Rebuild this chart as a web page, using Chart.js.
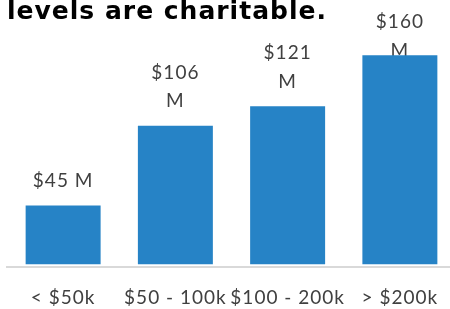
<!DOCTYPE html>
<html>
<head>
<meta charset="utf-8">
<script src="https://cdn.jsdelivr.net/npm/chart.js@4.4.1/dist/chart.umd.min.js"></script>
<style>
  html, body { margin: 0; padding: 0; background: #fff; overflow: hidden; }
  canvas { display: block; }
</style>
</head>
<body>
<!-- el lienzo es algo mayor que la ventana: el original corta el título y el borde derecho -->
<canvas id="grafica" width="460" height="328"></canvas>
<script>
// Datos
const categorias = ['< $50k', '$50 - 100k', '$100 - 200k', '> $200k'];
const valores = [45, 106, 121, 160];
const titulo = 'levels are charitable.';

const colorBarra = '#2683C6';
const colorTexto = '#404040';
const fuente = 'Lato, "Open Sans", sans-serif';

// Espaciado entre letras (el original lo tiene bastante abierto)
const espaciadoPlugin = {
  id: 'espaciado',
  beforeDraw(chart) {
    chart.ctx.letterSpacing = '1px';
  }
};

// Etiquetas encima de cada barra (se dibujan antes que las barras, como en el original)
const etiquetasPlugin = {
  id: 'etiquetas',
  beforeDatasetsDraw(chart) {
    const ctx = chart.ctx;
    const meta = chart.getDatasetMeta(0);
    ctx.save();
    ctx.letterSpacing = '1px';
    ctx.font = '19px ' + fuente;
    ctx.fillStyle = colorTexto;
    ctx.textAlign = 'center';
    ctx.textBaseline = 'alphabetic';
    meta.data.forEach((barra, i) => {
      const texto = '$' + valores[i] + ' M';
      let lineas = [texto];
      if (ctx.measureText(texto).width > 66) {
        lineas = texto.split(' '); // se parte en dos líneas si no cabe
      }
      let base = barra.y - 18.5 - (lineas.length - 1) * 28.5;
      if (base < 28) base = 28;
      lineas.forEach((l, j) => ctx.fillText(l, barra.x, base + j * 28.5));
    });
    ctx.restore();
  }
};

const ctx = document.getElementById('grafica').getContext('2d');
new Chart(ctx, {
  type: 'bar',
  data: {
    labels: categorias,
    datasets: [{
      data: valores,
      backgroundColor: colorBarra,
      borderWidth: 0,
      categoryPercentage: 1,
      barPercentage: 0.668,
    }],
  },
  options: {
    responsive: false,
    animation: false,
    layout: { padding: { left: 7, right: 4, top: 0, bottom: 0 } },
    scales: {
      x: {
        grid: { display: false, drawTicks: false },
        border: { display: true, color: '#d9d9d9', width: 2 },
        ticks: {
          color: colorTexto,
          font: { family: fuente, size: 19 },
          padding: 19,
          autoSkip: false,
          maxRotation: 0,
        },
      },
      y: {
        display: false,
        min: -2.3,
        max: 170,
      },
    },
    plugins: {
      legend: { display: false },
      tooltip: { enabled: false },
      title: {
        display: true,
        text: titulo,
        align: 'start',
        color: '#000',
        font: { family: '"DejaVu Sans"', size: 25, weight: 'bold', lineHeight: 1.2 },
        padding: { top: -2.5, bottom: 14.7 },
      },
    },
  },
  plugins: [espaciadoPlugin, etiquetasPlugin],
});
</script>
</body>
</html>
